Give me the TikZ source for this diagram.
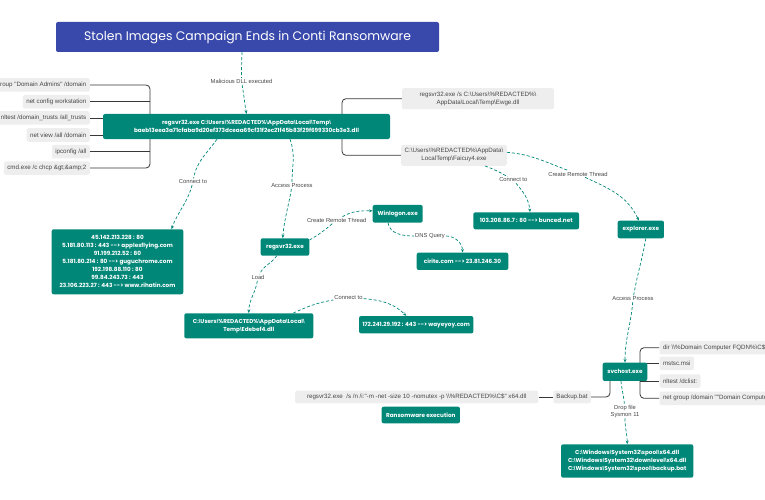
\documentclass[tikz,border=0pt]{standalone}
\usepackage{fontspec}
\setmainfont{Poppins}
\newfontfamily\greyfont{Liberation Sans}
\newfontfamily\bslfont{Liberation Sans}
\usetikzlibrary{arrows.meta,backgrounds}
\definecolor{tealbox}{RGB}{0,135,120}
\definecolor{titleblue}{RGB}{57,73,171}
\definecolor{greybox}{RGB}{238,238,238}
\definecolor{greytext}{RGB}{70,70,70}
\definecolor{treeline}{RGB}{55,55,55}
\newcommand{\bsl}{{\bslfont\textbackslash}}
\newcommand{\arw}{-\kern0pt->}

\begin{document}
\begin{tikzpicture}[x=1pt,y=-1pt,
	tealnode/.style={fill=tealbox,text=white,rounded corners=2pt,align=center,inner sep=0pt,font=\fontsize{5.7}{8}\selectfont\bfseries},
	greynode/.style={fill=greybox,text=greytext,rounded corners=2pt,align=center,inner xsep=3.5pt,inner ysep=0pt,minimum height=13.5pt,font=\greyfont\fontsize{6.2}{8}\selectfont},
	lbl/.style={fill=white,text=greytext,inner sep=1pt,align=center,font=\greyfont\fontsize{5.8}{7}\selectfont},
	link/.style={draw=tealbox,line width=0.7pt,dash pattern=on 3pt off 2pt,-{Stealth[length=3.5pt,width=3pt]}},
	tree/.style={draw=treeline,line width=0.8pt,rounded corners=4pt}]
	\useasboundingbox (0,0) rectangle (765,500);

	\node[fill=titleblue,text=white,rounded corners=2pt,minimum width=383pt,minimum height=30pt,font=\fontsize{12.4}{14}\selectfont] (title) at (247.5,37) {Stolen Images Campaign Ends in Conti Ransomware};
	\node[tealnode,minimum width=287pt,minimum height=25pt] (main) at (246.5,126.5) {regsvr32.exe C:\bsl Users\bsl\%REDACTED\%\bsl AppData\bsl Local\bsl Temp\bsl\\baeb13eea3a71cfaba9d20ef373dceaa69cf31f2ec21f45b83f29f699330cb3e3.dll};

	\node[greynode,anchor=east] (ngroup) at (90,85) {net group "Domain Admins" /domain};
	\node[greynode,anchor=east] (nconfig) at (90,101.7) {net config workstation};
	\node[greynode,anchor=east] (nltest) at (90,118) {nltest /domain\_trusts /all\_trusts};
	\node[greynode,anchor=east] (nview) at (90,135) {net view /all /domain};
	\node[greynode,anchor=east] (ipcfg) at (90,151.7) {ipconfig /all};
	\node[greynode,anchor=east] (cmdexe) at (90,168) {cmd.exe /c chcp \&gt;\&amp;2};

	\node[greynode,minimum width=152pt,minimum height=21pt] (ewge) at (478,98.7) {regsvr32.exe /s C:\bsl Users\bsl\%REDACTED\%\bsl\\AppData\bsl Local\bsl Temp\bsl Ewge.dll};
	\node[greynode,minimum width=104pt,minimum height=21pt] (faicuy) at (454,155.3) {C:\bsl Users\bsl\%REDACTED\%\bsl AppData\bsl\\LocalTemp\bsl Faicuy4.exe};

	\node[tealnode,minimum width=131.6pt,minimum height=65pt] (ipbox) at (117.5,261.8) {45.142.213.228 : 80\\5.181.80.113 : 443 \arw{} applesflying.com\\91.199.212.52 : 80\\5.181.80.214 : 80 \arw{} guguchrome.com\\192.198.88.110 : 80\\99.84.243.73 : 443\\23.106.223.27 : 443 \arw{} www.rihatin.com};
	\node[tealnode,minimum width=48.6pt,minimum height=17.4pt] (regsvr) at (285,247) {regsvr32.exe};
	\node[tealnode,minimum width=50pt,minimum height=17.7pt] (winlogon) at (397.7,213.8) {Winlogon.exe};
	\node[tealnode,minimum width=91.6pt,minimum height=17.3pt] (cirite) at (462.5,261.3) {cirite.com \arw{} 23.81.246.30};
	\node[tealnode,minimum width=129pt,minimum height=25pt] (edebef) at (248.8,325.8) {C:\bsl Users\bsl\%REDACTED\%\bsl AppData\bsl Local\bsl\\Temp\bsl Edebef4.dll};
	\node[tealnode,minimum width=114.3pt,minimum height=17.3pt] (wayeyoy) at (416.2,324.7) {172.241.29.192 : 443 \arw{} wayeyoy.com};
	\node[tealnode,minimum width=105.7pt,minimum height=17pt] (bunced) at (526.2,220.8) {103.208.86.7 : 80 \arw{} bunced.net};
	\node[tealnode,minimum width=46.3pt,minimum height=17.6pt] (explorer) at (640.8,229.5) {explorer.exe};
	\node[tealnode,minimum width=44.6pt,minimum height=18.3pt] (svchost) at (625,371.8) {svchost.exe};

	\node[greynode,anchor=west] (dirc) at (659.3,347.7) {dir \bsl\bsl\%Domain Computer FQDN\%\bsl C\$};
	\node[greynode,anchor=west] (mstsc) at (659.3,363.3) {mstsc.msi};
	\node[greynode,anchor=west] (nltdc) at (659.3,381) {nltest /dclist:};
	\node[greynode,anchor=west] (ngdc) at (659.3,398.3) {net group /domain ""Domain Computers""};

	\node[greynode,inner xsep=0pt,minimum width=37.5pt,minimum height=12.6pt] (backup) at (572,397) {Backup.bat};
	\node[greynode,inner xsep=0pt,minimum width=243.3pt,minimum height=12.6pt] (regcmd) at (416.7,397) {regsvr32.exe\ \ /s /n /i:"-m -net -size 10 -nomutex -p \bsl\bsl\%REDACTED\%\bsl C\$" x64.dll};
	\node[tealnode,minimum width=78.3pt,minimum height=16.6pt] (ransom) at (420.8,415) {Ransomware execution};
	\node[tealnode,minimum width=132.3pt,minimum height=33.3pt] (dropbox) at (627.2,461) {C:\bsl Windows\bsl System32\bsl spool\bsl x64.dll\\C:\bsl Windows\bsl System32\bsl downlevel\bsl x64.dll\\C:\bsl Windows\bsl System32\bsl spool\bsl backup.bat};

	\node[lbl] (lmal) at (241.5,81.5) {Malicious DLL executed};
	\node[lbl] (lcon1) at (193,181.7) {Connect to};
	\node[lbl] (lacc1) at (292,185.7) {Access Process};
	\node[lbl] (lcrt1) at (336.7,220) {Create Remote Thread};
	\node[lbl] (ldns) at (430,236) {DNS Query};
	\node[lbl] (lload) at (258,277.5) {Load};
	\node[lbl] (lcon2) at (348.5,297.3) {Connect to};
	\node[lbl] (lcon3) at (513.3,180) {Connect to};
	\node[lbl] (lcrt2) at (578,174) {Create Remote Thread};
	\node[lbl] (lacc2) at (633,299) {Access Process};
	\node[lbl] (ldrop) at (625,411) {Drop file\\Sysmon 11};

	\draw[link] ([xshift=-5.5pt]title.south) to[out=-92,in=90] (lmal) to[out=-80,in=100] (main.north);
	\draw[link] ([xshift=-29.5pt]main.south) to[out=-125,in=80] (lcon1) to[out=-105,in=70] ([xshift=54pt]ipbox.north);
	\draw[link] ([xshift=43.5pt]main.south) to[out=-70,in=90] (lacc1) to[out=-100,in=85] ([xshift=-2.3pt]regsvr.north);
	\draw[link] ([yshift=7pt]regsvr.east) to[out=30,in=-140] (lcrt1) to[out=30,in=180] ([yshift=3pt]winlogon.west);
	\draw[link] ([xshift=-9.7pt]winlogon.south) to[out=-80,in=180] (ldns) to[out=0,in=90] (cirite.north);
	\draw[link] ([xshift=-8.3pt]regsvr.south) to[out=-125,in=65] (lload) to[out=-100,in=90] (edebef.north);
	\draw[link] ([xshift=44.5pt]edebef.north) to[out=25,in=-170] (lcon2) to[out=-5,in=135] ([xshift=-10pt]wayeyoy.north);
	\draw[link] ([xshift=31pt]faicuy.south) to[out=-20,in=150] (lcon3) to[out=-50,in=95] ([xshift=3.8pt]bunced.north);
	\draw[link] ([yshift=3pt]faicuy.east) to[out=-5,in=160] (lcrt2) to[out=-25,in=115] ([xshift=-2pt]explorer.north);
	\draw[link] ([xshift=5pt]explorer.south) to[out=-100,in=80] (lacc2) to[out=-95,in=90] (svchost.north);
	\draw[link] ([xshift=-4pt]svchost.south) to[out=-85,in=95] (ldrop) to[out=-90,in=90] (dropbox.north);

	\begin{scope}[on background layer]
		\coordinate (lbus) at (150,126.5);
		\coordinate (rbus) at (342,126.5);
		\coordinate (sbus) at (640,371.8);
		\coordinate (bbus) at (610,371.8);
		\draw[tree] (ngroup.east) -| (lbus);
		\draw[tree] (cmdexe.east) -| (lbus);
		\draw[tree] (nconfig.east) -- (nconfig.east -| lbus);
		\draw[tree] (nltest.east) -- (nltest.east -| lbus);
		\draw[tree] (nview.east) -- (nview.east -| lbus);
		\draw[tree] (ipcfg.east) -- (ipcfg.east -| lbus);
		\draw[tree] (ewge.west) -| (rbus);
		\draw[tree] (faicuy.west) -| (rbus);
		\draw[tree] (dirc.west) -| (sbus);
		\draw[tree] (ngdc.west) -| (sbus);
		\draw[tree] (mstsc.west) -- (mstsc.west -| sbus);
		\draw[tree] (nltdc.west) -- (nltdc.west -| sbus);
		\draw[tree] (backup.east) -| (bbus);
		\draw[tree] (regcmd.east) -- (backup.west);
	\end{scope}
\end{tikzpicture}
\end{document}
